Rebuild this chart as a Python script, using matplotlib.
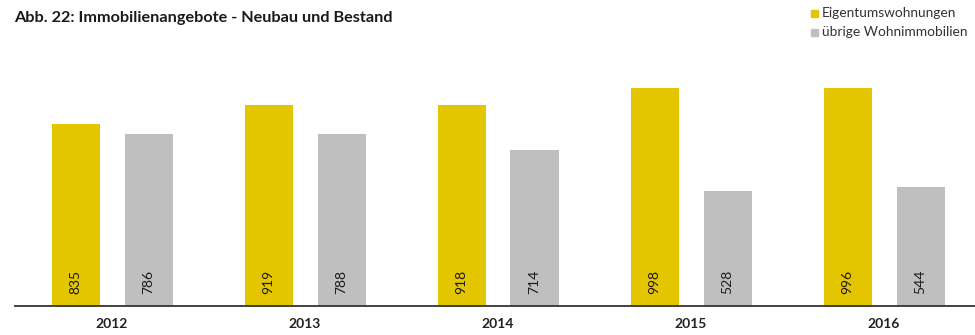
import matplotlib
matplotlib.use("Agg")
import matplotlib.pyplot as plt
from matplotlib.patches import Rectangle
from matplotlib.transforms import blended_transform_factory, offset_copy

years = ["2012", "2013", "2014", "2015", "2016"]
eigentum = [835, 919, 918, 998, 996]
uebrige = [786, 788, 714, 528, 544]
series_names = ["Eigentumswohnungen", "übrige Wohnimmobilien"]

YELLOW = "#E3C500"
GRAY = "#BFBFBF"
W, H = 975, 335

plt.rcParams["font.family"] = ["Lato", "DejaVu Sans"]

fig = plt.figure(figsize=(W / 100, H / 100), dpi=100)
# axes geometry in pixels
left_px, right_px = 15, 975
base_px = 306           # baseline from top
px_per_unit = 0.2185
ymax = 1300
ax_h = px_per_unit * ymax
ax = fig.add_axes([left_px / W, (H - base_px) / H, (right_px - left_px) / W, ax_h / H])

pitch = 193.0
first_center = 112.0
xs = list(range(len(years)))
off = 36.5 / pitch
bw = 48 / pitch

ax.bar([x - off for x in xs], eigentum, width=bw, color=YELLOW, linewidth=0)
ax.bar([x + off for x in xs], uebrige, width=bw, color=GRAY, linewidth=0)

ax.set_xlim((left_px - first_center) / pitch, (right_px - first_center) / pitch)
ax.set_ylim(0, ymax)

for s in ["top", "right", "left"]:
    ax.spines[s].set_visible(False)
ax.spines["bottom"].set_color("#333333")
ax.spines["bottom"].set_linewidth(1.3)
ax.set_yticks([])
ax.set_xticks(xs)
ax.set_xticklabels(years, fontsize=10, fontweight="bold", color="#222222")
ax.tick_params(axis="x", length=0, pad=9)

# value labels, rotated, near the bottom of each bar
trans = blended_transform_factory(ax.transData, ax.transAxes)
trans = offset_copy(trans, fig=fig, x=0, y=24, units="dots")
for x, v in zip(xs, eigentum):
    ax.text(x - off, 0, str(v), transform=trans, rotation=90, ha="center",
            va="center", fontsize=10, color="#1a1a1a")
for x, v in zip(xs, uebrige):
    ax.text(x + off, 0, str(v), transform=trans, rotation=90, ha="center",
            va="center", fontsize=10, color="#1a1a1a")

fig.text(14 / W, 1 - 18 / H, "Abb. 22: Immobilienangebote - Neubau und Bestand",
         fontsize=11.7, fontweight="bold", color="#1a1a1a", ha="left", va="center")

# legend
for i, (name, col) in enumerate(zip(series_names, [YELLOW, GRAY])):
    yc = 13 + 19 * i
    fig.patches.append(Rectangle((811 / W, 1 - (yc + 4) / H), 7 / W, 7 / H,
                                 transform=fig.transFigure, color=col))
    fig.text(822 / W, 1 - yc / H, name, fontsize=9.9, color="#333333",
             ha="left", va="center")

fig.savefig("out.png", dpi=100)
